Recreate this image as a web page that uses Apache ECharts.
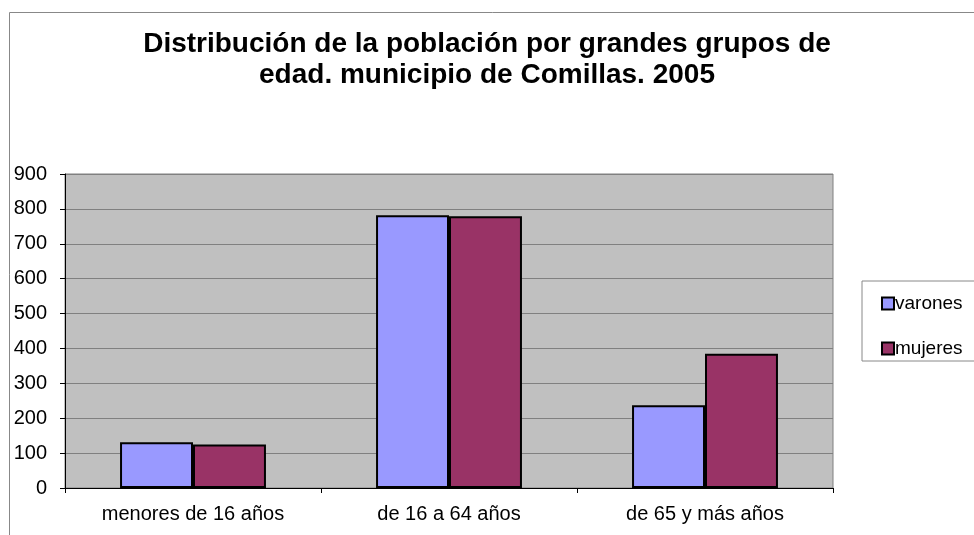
<!DOCTYPE html>
<html><head><meta charset="utf-8">
<script src="https://cdn.jsdelivr.net/npm/echarts@6/dist/echarts.min.js"></script>
<style>html,body{margin:0;padding:0;background:#fff}#c{width:974px;height:535px}</style>
</head><body><div id="c"></div>
<script>
const categories = ['menores de 16 años', 'de 16 a 64 años', 'de 65 y más años'];
const varones = [131, 782, 237];
const mujeres = [125, 779, 385];
const yTicks = [0, 900, 100];
const titleText = 'Distribución de la población por grandes grupos de\nedad. municipio de Comillas. 2005';

const chart = echarts.init(document.getElementById('c'), null, {renderer: 'canvas'});
const FONT = 'Liberation Sans, Arial, sans-serif';
chart.setOption({
  animation: false,
  backgroundColor: '#fff',
  graphic: [{
    type: 'rect', left: 7, top: 10, z: -1,
    shape: {width: 1100, height: 1000},
    style: {fill: 'none', stroke: '#888', lineWidth: 1}
  }],
  title: {
    text: titleText, left: 482, top: 24, textAlign: 'center',
    textStyle: {fontFamily: FONT, fontSize: 28, fontWeight: 'bold', color: '#000', lineHeight: 31}
  },
  legend: {
    orient: 'vertical', left: 862, top: 281,
    padding: [13, 30, 3, 19], itemGap: 26,
    borderColor: '#888', borderWidth: 1,
    itemWidth: 12, itemHeight: 12, icon: 'rect',
    textStyle: {fontFamily: FONT, fontSize: 19, color: '#000', padding: [0, 0, 0, -4]},
    data: ['varones', 'mujeres']
  },
  grid: {
    left: 65, right: 974 - 833, top: 174, bottom: 535 - 488,
    show: true, backgroundColor: '#C0C0C0', borderColor: '#808080', borderWidth: 1
  },
  xAxis: {
    type: 'category', data: categories,
    axisLine: {lineStyle: {color: '#000', width: 1}},
    axisTick: {show: true, length: 5, lineStyle: {color: '#000'}},
    axisLabel: {fontFamily: FONT, fontSize: 20, color: '#000', margin: 16}
  },
  yAxis: {
    type: 'value', min: yTicks[0], max: yTicks[1], interval: yTicks[2],
    axisLine: {show: true, lineStyle: {color: '#000', width: 1}},
    axisTick: {show: true, length: 5, lineStyle: {color: '#000'}},
    axisLabel: {fontFamily: FONT, fontSize: 20, color: '#000', margin: 18},
    splitLine: {lineStyle: {color: '#808080', width: 1}}
  },
  series: [
    {name: 'varones', type: 'bar', data: varones, barGap: '0%', barCategoryGap: '43%',
     itemStyle: {color: '#9999FF', borderColor: '#000', borderWidth: 2}},
    {name: 'mujeres', type: 'bar', data: mujeres,
     itemStyle: {color: '#993366', borderColor: '#000', borderWidth: 2}}
  ]
});
</script></body></html>
